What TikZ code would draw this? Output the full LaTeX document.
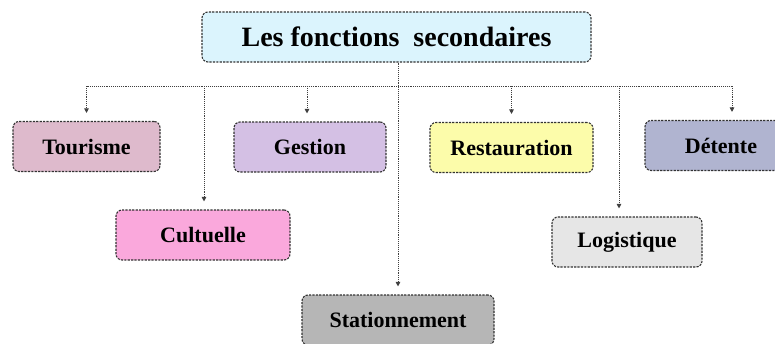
\documentclass[tikz,border=0pt]{standalone}
\usepackage{fontspec}
\setmainfont{Liberation Serif}
\usetikzlibrary{arrows.meta, positioning}

\begin{document}
\begin{tikzpicture}[
    x=1pt, y=-1pt,
    box/.style={draw=black!80, dash pattern=on 2.2pt off 1.2pt, line width=1.1pt, rounded corners=6pt, minimum height=50pt, align=center, font=\fontsize{22}{24}\selectfont\bfseries},
    title_box/.style={box, fill=cyan!14, minimum width=389pt, font=\fontsize{28}{30}\selectfont\bfseries},
    link/.style={densely dotted, line width=0.9pt, black!75},
    tip/.style={link, -{Triangle[length=4.5pt, width=4.5pt]}, shorten >=8pt}
]

% Canvas
\useasboundingbox (0,0) rectangle (775,343);

% Main function
\node[title_box] (main) at (396.5,37) {Les fonctions\ \ secondaires};

% First row
\node[box, fill={rgb,255:red,222;green,186;blue,204}, minimum width=147pt] (tourisme) at (86.5,146.5) {Tourisme};
\node[box, fill={rgb,255:red,212;green,192;blue,228}, minimum width=152pt] (gestion) at (310,147) {Gestion};
\node[box, fill={rgb,255:red,252;green,252;blue,170}, minimum width=163pt] (restauration) at (511.5,147.5) {Restauration};
\node[box, fill={rgb,255:red,176;green,180;blue,208}, minimum width=174pt] (detente) at (732,145.5) {\hspace*{-22pt}Détente};

% Lower rows
\node[box, fill={rgb,255:red,250;green,168;blue,220}, minimum width=174pt] (cultuelle) at (203,235) {Cultuelle};
\node[box, fill={rgb,255:red,230;green,230;blue,230}, minimum width=150pt] (logistique) at (627,242) {Logistique};
\node[box, fill={rgb,255:red,182;green,182;blue,182}, minimum width=192pt] (stationnement) at (398,320) {Stationnement};

% Bus line
\coordinate (bus) at (398,86);

% Trunk down to Stationnement
\draw[tip] (main.south -| bus) -- (stationnement.north -| bus);

% Horizontal bus
\draw[link] (tourisme.north |- bus) -- (detente.north |- bus);

% Branches
\draw[tip] (tourisme.north |- bus) -- (tourisme.north);
\draw[tip] ([xshift=-3pt]gestion.north |- bus) -- ([xshift=-3pt]gestion.north);
\draw[tip] (restauration.north |- bus) -- (restauration.north);
\draw[tip] (detente.north |- bus) -- (detente.north);
\draw[tip] ([xshift=1pt]cultuelle.north |- bus) -- ([xshift=1pt]cultuelle.north);
\draw[tip] ([xshift=-8pt]logistique.north |- bus) -- ([xshift=-8pt]logistique.north);

\end{tikzpicture}
\end{document}
